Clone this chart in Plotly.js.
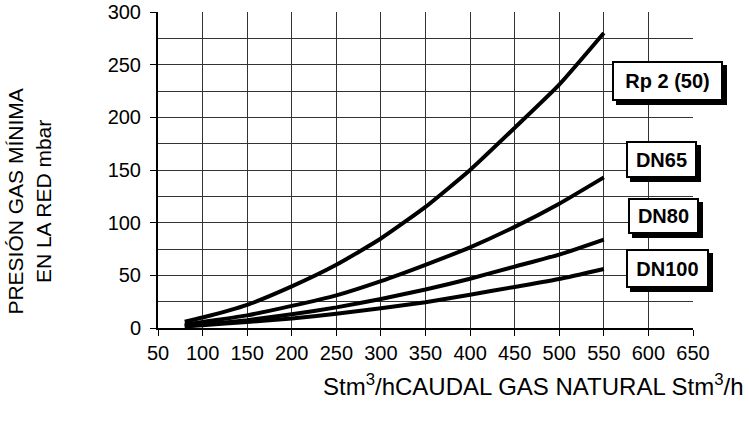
<!DOCTYPE html>
<html>
<head>
<meta charset="utf-8">
<script src="https://cdn.plot.ly/plotly-3.0.1.min.js"></script>
<style>html,body{margin:0;padding:0;background:#fff;}#chart{width:749px;height:425px;}</style>
</head>
<body>
<div id="chart"></div>
<script>
// Flow (Stm3/h) and minimum network gas pressure (mbar) per pipe size
const flow  = [80, 100, 150, 200, 250, 300, 350, 400, 450, 500, 550];
const rp2   = [6, 10, 22, 39.5, 60, 85, 115, 150, 190, 231, 280];
const dn65  = [3, 5.8, 12, 21, 31, 44.5, 60, 76.6, 96, 118, 143];
const dn80  = [2, 3.3, 7.4, 13, 19.6, 27.6, 36.5, 46.8, 58.3, 69.7, 84];
const dn100 = [1.5, 2.6, 5.8, 9, 13.5, 18.8, 24.4, 31.6, 39, 46.5, 56];
const seriesNames = ["Rp 2 (50)", "DN65", "DN80", "DN100"];
const xTicks = [50, 100, 150, 200, 250, 300, 350, 400, 450, 500, 550, 600, 650];
const yTicks = [0, 50, 100, 150, 200, 250, 300];

const FONT = "Arial, 'Liberation Sans', sans-serif";
const all = [rp2, dn65, dn80, dn100];
const traces = all.map((ys, i) => ({
  x: flow, y: ys, name: seriesNames[i], type: "scatter", mode: "lines",
  line: {color: "#000", width: 4, shape: "spline", smoothing: 0.5},
  hoverinfo: "skip", showlegend: false
}));

const labelPos = [
  {x: 0.952, y: 0.781, w: 107, h: 36},
  {x: 0.941, y: 0.533, w: 67, h: 33},
  {x: 0.945, y: 0.354, w: 67, h: 32},
  {x: 0.952, y: 0.1875, w: 79, h: 35}
];
const annotations = [];
seriesNames.forEach((n, i) => {
  const p = labelPos[i];
  annotations.push({xref: "paper", yref: "paper", x: p.x, y: p.y, xanchor: "center", yanchor: "middle",
    text: "<b>" + n + "</b>", showarrow: false, font: {family: FONT, size: 20, color: "#000"},
    bgcolor: "#000", bordercolor: "#000", borderwidth: 2, borderpad: 0, width: p.w, height: p.h,
    xshift: 4, yshift: -4});
  annotations.push({xref: "paper", yref: "paper", x: p.x, y: p.y, xanchor: "center", yanchor: "middle",
    text: "<b>" + n + "</b>", showarrow: false, font: {family: FONT, size: 20, color: "#000"},
    bgcolor: "#fff", bordercolor: "#000", borderwidth: 2, borderpad: 0, width: p.w, height: p.h});
});
annotations.push({xref: "paper", yref: "paper", x: (321 - 158) / 535, y: -0.18, xanchor: "left", yanchor: "middle",
  text: "Stm<sup>3</sup>/hCAUDAL GAS NATURAL Stm<sup>3</sup>/h", showarrow: false,
  font: {family: FONT, size: 24, color: "#000"}});
annotations.push({xref: "paper", yref: "paper", x: (29 - 158) / 535, y: 0.40, xanchor: "center", yanchor: "middle",
  textangle: -90, text: "PRESIÓN GAS MÍNIMA<br>EN LA RED mbar", showarrow: false,
  font: {family: FONT, size: 21, color: "#000"}});

const layout = {
  width: 749, height: 425,
  margin: {l: 158, r: 56, t: 12, b: 97, pad: 0},
  paper_bgcolor: "#fff", plot_bgcolor: "#fff",
  font: {family: FONT, size: 20, color: "#000"},
  xaxis: {range: [50, 650], tickvals: xTicks, ticktext: xTicks.map(String),
    showgrid: true, gridcolor: "#333", gridwidth: 1, zeroline: false,
    showline: true, linecolor: "#000", linewidth: 2, mirror: false,
    ticks: "outside", ticklen: 6, tickcolor: "#000", tickwidth: 1,
    tickfont: {family: FONT, size: 20, color: "#000"}, fixedrange: true},
  yaxis: {range: [0, 300], tickvals: yTicks, ticktext: yTicks.map(String),
    showgrid: true, gridcolor: "#333", gridwidth: 1, zeroline: false,
    minor: {dtick: 25, showgrid: true, gridcolor: "#333", gridwidth: 1, ticks: ""},
    showline: true, linecolor: "#000", linewidth: 2,
    ticks: "outside", ticklen: 6, tickcolor: "#000", tickwidth: 1, ticklabelstandoff: 5,
    tickfont: {family: FONT, size: 20, color: "#000"}, fixedrange: true},
  annotations: annotations,
  showlegend: false
};
Plotly.newPlot("chart", traces, layout, {displayModeBar: false, staticPlot: true});
</script>
</body>
</html>
